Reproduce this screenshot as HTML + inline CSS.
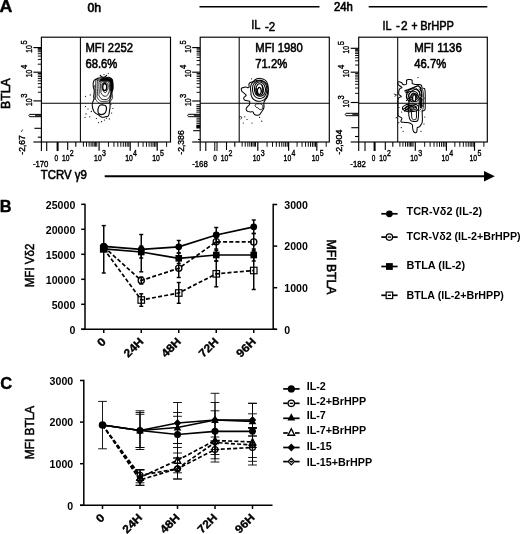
<!DOCTYPE html><html><head><meta charset="utf-8"><title>Figure</title>
<style>html,body{margin:0;padding:0;background:#fff}svg{display:block;filter:grayscale(1)}.n{stroke:#000;stroke-width:0.4px}text{font-family:"Liberation Sans",Arial,sans-serif;fill:#000}line,path{stroke:#000}</style></head><body>
<svg width="520" height="534" viewBox="0 0 520 534">
<rect x="0" y="0" width="520" height="534" fill="#fff" stroke="none"/>
<text x="-0.5" y="12.2" font-size="17" font-weight="bold" text-anchor="start" textLength="12.9" lengthAdjust="spacingAndGlyphs" style="stroke:#000;stroke-width:0.4px">A</text>
<text x="-0.3" y="211.9" font-size="17" font-weight="bold" text-anchor="start" textLength="11.8" lengthAdjust="spacingAndGlyphs" style="stroke:#000;stroke-width:0.4px">B</text>
<text x="0.2" y="388.7" font-size="17" font-weight="bold" text-anchor="start" textLength="11.9" lengthAdjust="spacingAndGlyphs" style="stroke:#000;stroke-width:0.4px">C</text>
<text x="87.5" y="11.9" font-size="12.8" font-weight="normal" text-anchor="start" class="n" textLength="13.6" lengthAdjust="spacingAndGlyphs" style="stroke-width:0.7px">0h</text>
<line x1="199.5" y1="6.8" x2="319.5" y2="6.8" stroke-width="1.6" />
<line x1="368.7" y1="6.8" x2="487.3" y2="6.8" stroke-width="1.6" />
<text x="334.0" y="10.8" font-size="12.7" font-weight="normal" text-anchor="start" class="n" textLength="18.9" lengthAdjust="spacingAndGlyphs" style="stroke-width:0.7px">24h</text>
<text x="251.2" y="29.2" font-size="13" font-weight="normal" text-anchor="start" class="n" textLength="9.3" lengthAdjust="spacingAndGlyphs" style="stroke-width:0.55px">IL</text>
<text x="264.9" y="31" font-size="13" font-weight="normal" text-anchor="start" class="n" textLength="10.2" lengthAdjust="spacingAndGlyphs" style="stroke-width:0.55px">-2</text>
<text x="382.5" y="29.7" font-size="12.9" font-weight="normal" text-anchor="start" class="n" textLength="9.0" lengthAdjust="spacingAndGlyphs" style="stroke-width:0.55px">IL</text>
<text x="396.0" y="29.7" font-size="12.9" font-weight="normal" text-anchor="start" class="n" textLength="3.9" lengthAdjust="spacingAndGlyphs" style="stroke-width:0.55px">-</text>
<text x="400.9" y="29.7" font-size="12.9" font-weight="normal" text-anchor="start" class="n" textLength="6.6" lengthAdjust="spacingAndGlyphs" style="stroke-width:0.55px">2</text>
<text x="411.4" y="29.7" font-size="12.9" font-weight="normal" text-anchor="start" class="n" textLength="6.0" lengthAdjust="spacingAndGlyphs" style="stroke-width:0.8px">+</text>
<text x="420.2" y="29.7" font-size="12.9" font-weight="normal" text-anchor="start" class="n" textLength="33.8" lengthAdjust="spacingAndGlyphs" style="stroke-width:0.55px">BrHPP</text>
<rect x="41.4" y="37.2" width="129.1" height="104.8" fill="none" stroke="#000" stroke-width="1.15"/>
<line x1="80.4" y1="37.2" x2="80.4" y2="142.0" stroke-width="1.05" />
<line x1="41.4" y1="103.2" x2="170.5" y2="103.2" stroke-width="1.05" />
<line x1="33.4" y1="47.6" x2="41.4" y2="47.6" stroke-width="1.15" />
<line x1="33.4" y1="72.2" x2="41.4" y2="72.2" stroke-width="1.15" />
<line x1="33.4" y1="100.9" x2="41.4" y2="100.9" stroke-width="1.15" />
<line x1="37.8" y1="48.4" x2="41.4" y2="48.4" stroke-width="0.95" />
<line x1="37.8" y1="49.2" x2="41.4" y2="49.2" stroke-width="0.95" />
<line x1="37.8" y1="50.2" x2="41.4" y2="50.2" stroke-width="0.95" />
<line x1="37.8" y1="51.7" x2="41.4" y2="51.7" stroke-width="0.95" />
<line x1="37.8" y1="53.7" x2="41.4" y2="53.7" stroke-width="0.95" />
<line x1="37.8" y1="56.1" x2="41.4" y2="56.1" stroke-width="0.95" />
<line x1="37.8" y1="59.4" x2="41.4" y2="59.4" stroke-width="0.95" />
<line x1="37.8" y1="64.2" x2="41.4" y2="64.2" stroke-width="0.95" />
<line x1="37.8" y1="92.26043912444375" x2="41.4" y2="92.26043912444375" stroke-width="0.95" />
<line x1="37.8" y1="87.20661998954569" x2="41.4" y2="87.20661998954569" stroke-width="0.95" />
<line x1="37.8" y1="83.62087824888748" x2="41.4" y2="83.62087824888748" stroke-width="0.95" />
<line x1="37.8" y1="80.83956087555626" x2="41.4" y2="80.83956087555626" stroke-width="0.95" />
<line x1="37.8" y1="78.56705911398943" x2="41.4" y2="78.56705911398943" stroke-width="0.95" />
<line x1="37.8" y1="76.64568625159083" x2="41.4" y2="76.64568625159083" stroke-width="0.95" />
<line x1="37.8" y1="74.98131737333122" x2="41.4" y2="74.98131737333122" stroke-width="0.95" />
<line x1="37.8" y1="73.51323997909138" x2="41.4" y2="73.51323997909138" stroke-width="0.95" />
<path d="M41.4 114.4 H29.7 Q28.099999999999998 115.55000000000001 29.7 116.7 H41.4" fill="none" stroke-width="1.0"/>
<line x1="35.1" y1="115.0" x2="41.4" y2="115.0" stroke-width="0.6" />
<line x1="35.1" y1="115.55000000000001" x2="41.4" y2="115.55000000000001" stroke-width="0.6" />
<line x1="35.1" y1="116.10000000000001" x2="41.4" y2="116.10000000000001" stroke-width="0.6" />
<line x1="34.4" y1="128.3" x2="41.4" y2="128.3" stroke-width="1.1" />
<line x1="37.8" y1="137.2" x2="41.4" y2="137.2" stroke-width="1.1" />
<line x1="33.4" y1="142.0" x2="41.4" y2="142.0" stroke-width="1.15" />
<line x1="41.4" y1="142.0" x2="41.4" y2="151.0" stroke-width="1.1" />
<line x1="46.699999999999996" y1="142.0" x2="46.699999999999996" y2="151.0" stroke-width="1.1" />
<line x1="57.599999999999994" y1="142.0" x2="57.599999999999994" y2="151.0" stroke-width="2.0" />
<line x1="67.7" y1="142.0" x2="67.7" y2="150.0" stroke-width="1.1" />
<line x1="75.8" y1="142.0" x2="75.8" y2="146.7" stroke-width="1.1" />
<line x1="83.4" y1="142.0" x2="83.4" y2="146.7" stroke-width="0.95" />
<line x1="86.5" y1="142.0" x2="86.5" y2="146.7" stroke-width="0.95" />
<line x1="89.1" y1="142.0" x2="89.1" y2="146.7" stroke-width="0.95" />
<line x1="91.1" y1="142.0" x2="91.1" y2="146.7" stroke-width="0.95" />
<line x1="92.8" y1="142.0" x2="92.8" y2="146.7" stroke-width="0.95" />
<line x1="94.3" y1="142.0" x2="94.3" y2="146.7" stroke-width="0.95" />
<line x1="95.6" y1="142.0" x2="95.6" y2="146.7" stroke-width="0.95" />
<line x1="96.8" y1="142.0" x2="96.8" y2="146.7" stroke-width="0.95" />
<line x1="99.1" y1="142.0" x2="99.1" y2="150.8" stroke-width="1.2" />
<line x1="130.2" y1="142.0" x2="130.2" y2="150.8" stroke-width="1.2" />
<line x1="157.2" y1="142.0" x2="157.2" y2="150.8" stroke-width="1.2" />
<line x1="108.46203286514981" y1="142.0" x2="108.46203286514981" y2="146.8" stroke-width="0.95" />
<line x1="113.9384710217815" y1="142.0" x2="113.9384710217815" y2="146.8" stroke-width="0.95" />
<line x1="117.82406573029962" y1="142.0" x2="117.82406573029962" y2="146.8" stroke-width="0.95" />
<line x1="120.83796713485017" y1="142.0" x2="120.83796713485017" y2="146.8" stroke-width="0.95" />
<line x1="123.30050388693131" y1="142.0" x2="123.30050388693131" y2="146.8" stroke-width="0.95" />
<line x1="125.38254904444338" y1="142.0" x2="125.38254904444338" y2="146.8" stroke-width="0.95" />
<line x1="127.18609859544944" y1="142.0" x2="127.18609859544944" y2="146.8" stroke-width="0.95" />
<line x1="128.776942043563" y1="142.0" x2="128.776942043563" y2="146.8" stroke-width="0.95" />
<line x1="138.32780988292748" y1="142.0" x2="138.32780988292748" y2="146.8" stroke-width="0.95" />
<line x1="143.08227387743088" y1="142.0" x2="143.08227387743088" y2="146.8" stroke-width="0.95" />
<line x1="146.45561976585498" y1="142.0" x2="146.45561976585498" y2="146.8" stroke-width="0.95" />
<line x1="149.0721901170725" y1="142.0" x2="149.0721901170725" y2="146.8" stroke-width="0.95" />
<line x1="151.21008376035837" y1="142.0" x2="151.21008376035837" y2="146.8" stroke-width="0.95" />
<line x1="153.01764708038493" y1="142.0" x2="153.01764708038493" y2="146.8" stroke-width="0.95" />
<line x1="154.58342964878247" y1="142.0" x2="154.58342964878247" y2="146.8" stroke-width="0.95" />
<line x1="155.96454775486177" y1="142.0" x2="155.96454775486177" y2="146.8" stroke-width="0.95" />
<line x1="166.6" y1="142.0" x2="166.6" y2="146.8" stroke-width="0.95" />
<text x="32.9" y="167.25" font-size="9.3" font-weight="normal" text-anchor="start" class="n" textLength="15.5" lengthAdjust="spacingAndGlyphs" >-170</text>
<text x="54.5" y="161.1" font-size="9.0" font-weight="normal" text-anchor="start" class="n" textLength="3.6" lengthAdjust="spacingAndGlyphs" >0</text>
<text x="62.0" y="161.1" font-size="9.0" font-weight="normal" text-anchor="start" class="n" textLength="7.5" lengthAdjust="spacingAndGlyphs" >10</text>
<text x="69.7" y="155.8" font-size="8.7" font-weight="normal" text-anchor="start" class="n" textLength="3.9" lengthAdjust="spacingAndGlyphs" >2</text>
<text x="94.1" y="161.1" font-size="9.0" font-weight="normal" text-anchor="start" class="n" textLength="7.6" lengthAdjust="spacingAndGlyphs" >10</text>
<text x="102.0" y="155.8" font-size="8.7" font-weight="normal" text-anchor="start" class="n" textLength="3.9" lengthAdjust="spacingAndGlyphs" >3</text>
<text x="125.19999999999999" y="161.1" font-size="9.0" font-weight="normal" text-anchor="start" class="n" textLength="7.6" lengthAdjust="spacingAndGlyphs" >10</text>
<text x="133.1" y="155.8" font-size="8.7" font-weight="normal" text-anchor="start" class="n" textLength="3.9" lengthAdjust="spacingAndGlyphs" >4</text>
<text x="152.2" y="161.1" font-size="9.0" font-weight="normal" text-anchor="start" class="n" textLength="7.6" lengthAdjust="spacingAndGlyphs" >10</text>
<text x="160.1" y="155.8" font-size="8.7" font-weight="normal" text-anchor="start" class="n" textLength="3.9" lengthAdjust="spacingAndGlyphs" >5</text>
<text x="32.2" y="52.7" font-size="9.0" font-weight="normal" text-anchor="start" class="n" textLength="7.5" lengthAdjust="spacingAndGlyphs" transform="rotate(-90 32.2 52.7)" >10</text>
<text x="27.0" y="44.5" font-size="9.0" font-weight="normal" text-anchor="start" class="n" textLength="4.2" lengthAdjust="spacingAndGlyphs" transform="rotate(-90 27.0 44.5)" >5</text>
<text x="32.2" y="77.3" font-size="9.0" font-weight="normal" text-anchor="start" class="n" textLength="7.5" lengthAdjust="spacingAndGlyphs" transform="rotate(-90 32.2 77.3)" >10</text>
<text x="27.0" y="69.10000000000001" font-size="9.0" font-weight="normal" text-anchor="start" class="n" textLength="4.2" lengthAdjust="spacingAndGlyphs" transform="rotate(-90 27.0 69.10000000000001)" >4</text>
<text x="32.2" y="106.0" font-size="9.0" font-weight="normal" text-anchor="start" class="n" textLength="7.5" lengthAdjust="spacingAndGlyphs" transform="rotate(-90 32.2 106.0)" >10</text>
<text x="27.0" y="97.80000000000001" font-size="9.0" font-weight="normal" text-anchor="start" class="n" textLength="4.2" lengthAdjust="spacingAndGlyphs" transform="rotate(-90 27.0 97.80000000000001)" >3</text>
<text x="25.099999999999998" y="154.7" font-size="8.6" font-weight="normal" text-anchor="start" class="n" textLength="19.5" lengthAdjust="spacingAndGlyphs" transform="rotate(-90 25.099999999999998 154.7)" >-2,67</text>
<text x="85.4" y="51.7" font-size="13.5" font-weight="normal" text-anchor="start" class="n" textLength="47.5" lengthAdjust="spacingAndGlyphs" style="stroke-width:0.6px">MFI 2252</text>
<text x="85.4" y="67.9" font-size="13.5" font-weight="normal" text-anchor="start" class="n" textLength="32" lengthAdjust="spacingAndGlyphs" style="stroke-width:0.6px">68.6%</text>
<rect x="200.2" y="37.2" width="129.1" height="104.8" fill="none" stroke="#000" stroke-width="1.15"/>
<line x1="239.2" y1="37.2" x2="239.2" y2="142.0" stroke-width="1.05" />
<line x1="200.2" y1="103.2" x2="329.29999999999995" y2="103.2" stroke-width="1.05" />
<line x1="192.2" y1="47.6" x2="200.2" y2="47.6" stroke-width="1.15" />
<line x1="192.2" y1="72.2" x2="200.2" y2="72.2" stroke-width="1.15" />
<line x1="192.2" y1="101.0" x2="200.2" y2="101.0" stroke-width="1.15" />
<line x1="196.6" y1="64.79466210666607" x2="200.2" y2="64.79466210666607" stroke-width="0.95" />
<line x1="196.6" y1="60.46281713389631" x2="200.2" y2="60.46281713389631" stroke-width="0.95" />
<line x1="196.6" y1="57.38932421333213" x2="200.2" y2="57.38932421333213" stroke-width="0.95" />
<line x1="196.6" y1="55.00533789333394" x2="200.2" y2="55.00533789333394" stroke-width="0.95" />
<line x1="196.6" y1="53.05747924056237" x2="200.2" y2="53.05747924056237" stroke-width="0.95" />
<line x1="196.6" y1="51.410588215649284" x2="200.2" y2="51.410588215649284" stroke-width="0.95" />
<line x1="196.6" y1="49.983986319998195" x2="200.2" y2="49.983986319998195" stroke-width="0.95" />
<line x1="196.6" y1="48.725634267792614" x2="200.2" y2="48.725634267792614" stroke-width="0.95" />
<line x1="196.6" y1="92.33033612487735" x2="200.2" y2="92.33033612487735" stroke-width="0.95" />
<line x1="196.6" y1="87.25890786407372" x2="200.2" y2="87.25890786407372" stroke-width="0.95" />
<line x1="196.6" y1="83.66067224975468" x2="200.2" y2="83.66067224975468" stroke-width="0.95" />
<line x1="196.6" y1="80.86966387512265" x2="200.2" y2="80.86966387512265" stroke-width="0.95" />
<line x1="196.6" y1="78.58924398895107" x2="200.2" y2="78.58924398895107" stroke-width="0.95" />
<line x1="196.6" y1="76.66117644758941" x2="200.2" y2="76.66117644758941" stroke-width="0.95" />
<line x1="196.6" y1="74.99100837463203" x2="200.2" y2="74.99100837463203" stroke-width="0.95" />
<line x1="196.6" y1="73.51781572814744" x2="200.2" y2="73.51781572814744" stroke-width="0.95" />
<path d="M200.2 114.3 H188.5 Q186.89999999999998 115.5 188.5 116.7 H200.2" fill="none" stroke-width="1.0"/>
<line x1="193.89999999999998" y1="114.89999999999999" x2="200.2" y2="114.89999999999999" stroke-width="0.6" />
<line x1="193.89999999999998" y1="115.45" x2="200.2" y2="115.45" stroke-width="0.6" />
<line x1="193.89999999999998" y1="116.0" x2="200.2" y2="116.0" stroke-width="0.6" />
<line x1="196.39999999999998" y1="104.8" x2="200.2" y2="104.8" stroke-width="1.0" />
<line x1="196.39999999999998" y1="106.6" x2="200.2" y2="106.6" stroke-width="1.0" />
<line x1="196.39999999999998" y1="108.4" x2="200.2" y2="108.4" stroke-width="1.0" />
<line x1="196.39999999999998" y1="110.2" x2="200.2" y2="110.2" stroke-width="1.0" />
<line x1="196.39999999999998" y1="112.1" x2="200.2" y2="112.1" stroke-width="1.0" />
<line x1="196.39999999999998" y1="118.2" x2="200.2" y2="118.2" stroke-width="1.0" />
<line x1="196.39999999999998" y1="120.0" x2="200.2" y2="120.0" stroke-width="1.0" />
<line x1="196.39999999999998" y1="121.8" x2="200.2" y2="121.8" stroke-width="1.0" />
<line x1="196.39999999999998" y1="123.7" x2="200.2" y2="123.7" stroke-width="1.0" />
<rect x="196.29999999999998" y="124.9" width="3.9" height="3.6" fill="#000" stroke="none"/>
<line x1="193.2" y1="130.7" x2="200.2" y2="130.7" stroke-width="1.1" />
<line x1="198.0" y1="139.5" x2="200.2" y2="139.5" stroke-width="1.1" />
<line x1="192.2" y1="142.0" x2="200.2" y2="142.0" stroke-width="1.15" />
<line x1="200.2" y1="142.0" x2="200.2" y2="151.0" stroke-width="1.1" />
<line x1="205.79999999999998" y1="142.0" x2="205.79999999999998" y2="151.0" stroke-width="1.1" />
<line x1="214.79999999999998" y1="142.0" x2="214.79999999999998" y2="151.0" stroke-width="1.0" />
<line x1="217.0" y1="142.0" x2="217.0" y2="151.0" stroke-width="1.0" />
<line x1="226.5" y1="142.0" x2="226.5" y2="150.0" stroke-width="1.1" />
<line x1="234.79999999999998" y1="142.0" x2="234.79999999999998" y2="146.7" stroke-width="1.1" />
<line x1="242.1272097053726" y1="142.0" x2="242.1272097053726" y2="146.7" stroke-width="0.95" />
<line x1="245.2218370883882" y1="142.0" x2="245.2218370883882" y2="146.7" stroke-width="0.95" />
<line x1="247.8173310225303" y1="142.0" x2="247.8173310225303" y2="146.7" stroke-width="0.95" />
<line x1="249.81386481802426" y1="142.0" x2="249.81386481802426" y2="146.7" stroke-width="0.95" />
<line x1="251.5109185441941" y1="142.0" x2="251.5109185441941" y2="146.7" stroke-width="0.95" />
<line x1="253.00831889081454" y1="142.0" x2="253.00831889081454" y2="146.7" stroke-width="0.95" />
<line x1="254.3060658578856" y1="142.0" x2="254.3060658578856" y2="146.7" stroke-width="0.95" />
<line x1="255.50398613518195" y1="142.0" x2="255.50398613518195" y2="146.7" stroke-width="0.95" />
<line x1="257.8" y1="142.0" x2="257.8" y2="150.8" stroke-width="1.2" />
<line x1="288.6" y1="142.0" x2="288.6" y2="150.8" stroke-width="1.2" />
<line x1="316.79999999999995" y1="142.0" x2="316.79999999999995" y2="150.8" stroke-width="1.2" />
<line x1="267.0717238664506" y1="142.0" x2="267.0717238664506" y2="146.8" stroke-width="0.95" />
<line x1="272.49533464536563" y1="142.0" x2="272.49533464536563" y2="146.8" stroke-width="0.95" />
<line x1="276.34344773290127" y1="142.0" x2="276.34344773290127" y2="146.8" stroke-width="0.95" />
<line x1="279.32827613354937" y1="142.0" x2="279.32827613354937" y2="146.8" stroke-width="0.95" />
<line x1="281.76705851181623" y1="142.0" x2="281.76705851181623" y2="146.8" stroke-width="0.95" />
<line x1="283.8290196324391" y1="142.0" x2="283.8290196324391" y2="146.8" stroke-width="0.95" />
<line x1="285.61517159935187" y1="142.0" x2="285.61517159935187" y2="146.8" stroke-width="0.95" />
<line x1="287.1906692907312" y1="142.0" x2="287.1906692907312" y2="146.8" stroke-width="0.95" />
<line x1="297.0890458777243" y1="142.0" x2="297.0890458777243" y2="146.8" stroke-width="0.95" />
<line x1="302.0548193830945" y1="142.0" x2="302.0548193830945" y2="146.8" stroke-width="0.95" />
<line x1="305.57809175544855" y1="142.0" x2="305.57809175544855" y2="146.8" stroke-width="0.95" />
<line x1="308.31095412227575" y1="142.0" x2="308.31095412227575" y2="146.8" stroke-width="0.95" />
<line x1="310.5438652608188" y1="142.0" x2="310.5438652608188" y2="146.8" stroke-width="0.95" />
<line x1="312.4317647284021" y1="142.0" x2="312.4317647284021" y2="146.8" stroke-width="0.95" />
<line x1="314.0671376331728" y1="142.0" x2="314.0671376331728" y2="146.8" stroke-width="0.95" />
<line x1="315.50963876618897" y1="142.0" x2="315.50963876618897" y2="146.8" stroke-width="0.95" />
<line x1="326.19999999999993" y1="142.0" x2="326.19999999999993" y2="146.8" stroke-width="0.95" />
<text x="192.2" y="167.25" font-size="9.3" font-weight="normal" text-anchor="start" class="n" textLength="15.5" lengthAdjust="spacingAndGlyphs" >-168</text>
<text x="213.29999999999998" y="161.1" font-size="9.0" font-weight="normal" text-anchor="start" class="n" textLength="3.6" lengthAdjust="spacingAndGlyphs" >0</text>
<text x="220.79999999999998" y="161.1" font-size="9.0" font-weight="normal" text-anchor="start" class="n" textLength="7.5" lengthAdjust="spacingAndGlyphs" >10</text>
<text x="228.5" y="155.8" font-size="8.7" font-weight="normal" text-anchor="start" class="n" textLength="3.9" lengthAdjust="spacingAndGlyphs" >2</text>
<text x="252.8" y="161.1" font-size="9.0" font-weight="normal" text-anchor="start" class="n" textLength="7.6" lengthAdjust="spacingAndGlyphs" >10</text>
<text x="260.7" y="155.8" font-size="8.7" font-weight="normal" text-anchor="start" class="n" textLength="3.9" lengthAdjust="spacingAndGlyphs" >3</text>
<text x="283.6" y="161.1" font-size="9.0" font-weight="normal" text-anchor="start" class="n" textLength="7.6" lengthAdjust="spacingAndGlyphs" >10</text>
<text x="291.5" y="155.8" font-size="8.7" font-weight="normal" text-anchor="start" class="n" textLength="3.9" lengthAdjust="spacingAndGlyphs" >4</text>
<text x="311.79999999999995" y="161.1" font-size="9.0" font-weight="normal" text-anchor="start" class="n" textLength="7.6" lengthAdjust="spacingAndGlyphs" >10</text>
<text x="319.69999999999993" y="155.8" font-size="8.7" font-weight="normal" text-anchor="start" class="n" textLength="3.9" lengthAdjust="spacingAndGlyphs" >5</text>
<text x="191.0" y="52.7" font-size="9.0" font-weight="normal" text-anchor="start" class="n" textLength="7.5" lengthAdjust="spacingAndGlyphs" transform="rotate(-90 191.0 52.7)" >10</text>
<text x="185.79999999999998" y="44.5" font-size="9.0" font-weight="normal" text-anchor="start" class="n" textLength="4.2" lengthAdjust="spacingAndGlyphs" transform="rotate(-90 185.79999999999998 44.5)" >5</text>
<text x="191.0" y="77.3" font-size="9.0" font-weight="normal" text-anchor="start" class="n" textLength="7.5" lengthAdjust="spacingAndGlyphs" transform="rotate(-90 191.0 77.3)" >10</text>
<text x="185.79999999999998" y="69.10000000000001" font-size="9.0" font-weight="normal" text-anchor="start" class="n" textLength="4.2" lengthAdjust="spacingAndGlyphs" transform="rotate(-90 185.79999999999998 69.10000000000001)" >4</text>
<text x="191.0" y="106.1" font-size="9.0" font-weight="normal" text-anchor="start" class="n" textLength="7.5" lengthAdjust="spacingAndGlyphs" transform="rotate(-90 191.0 106.1)" >10</text>
<text x="185.79999999999998" y="97.9" font-size="9.0" font-weight="normal" text-anchor="start" class="n" textLength="4.2" lengthAdjust="spacingAndGlyphs" transform="rotate(-90 185.79999999999998 97.9)" >3</text>
<text x="183.89999999999998" y="154.7" font-size="8.6" font-weight="normal" text-anchor="start" class="n" textLength="24.4" lengthAdjust="spacingAndGlyphs" transform="rotate(-90 183.89999999999998 154.7)" >-2,386</text>
<text x="255.29999999999998" y="51.7" font-size="13.5" font-weight="normal" text-anchor="start" class="n" textLength="47.5" lengthAdjust="spacingAndGlyphs" style="stroke-width:0.6px">MFI 1980</text>
<text x="255.29999999999998" y="67.9" font-size="13.5" font-weight="normal" text-anchor="start" class="n" textLength="32" lengthAdjust="spacingAndGlyphs" style="stroke-width:0.6px">71.2%</text>
<rect x="358.7" y="37.2" width="128.6" height="104.8" fill="none" stroke="#000" stroke-width="1.15"/>
<line x1="397.7" y1="37.2" x2="397.7" y2="142.0" stroke-width="1.05" />
<line x1="358.7" y1="103.2" x2="487.29999999999995" y2="103.2" stroke-width="1.05" />
<line x1="350.7" y1="48.3" x2="358.7" y2="48.3" stroke-width="1.15" />
<line x1="350.7" y1="72.2" x2="358.7" y2="72.2" stroke-width="1.15" />
<line x1="350.7" y1="102.5" x2="358.7" y2="102.5" stroke-width="1.15" />
<line x1="355.09999999999997" y1="65.00538310363085" x2="358.7" y2="65.00538310363085" stroke-width="0.95" />
<line x1="355.09999999999997" y1="60.79680201220007" x2="358.7" y2="60.79680201220007" stroke-width="0.95" />
<line x1="355.09999999999997" y1="57.8107662072617" x2="358.7" y2="57.8107662072617" stroke-width="0.95" />
<line x1="355.09999999999997" y1="55.49461689636915" x2="358.7" y2="55.49461689636915" stroke-width="0.95" />
<line x1="355.09999999999997" y1="53.60218511583092" x2="358.7" y2="53.60218511583092" stroke-width="0.95" />
<line x1="355.09999999999997" y1="52.002156843659264" x2="358.7" y2="52.002156843659264" stroke-width="0.95" />
<line x1="355.09999999999997" y1="50.616149310892546" x2="358.7" y2="50.616149310892546" stroke-width="0.95" />
<line x1="355.09999999999997" y1="49.39360402440013" x2="358.7" y2="49.39360402440013" stroke-width="0.95" />
<line x1="355.09999999999997" y1="93.37879113138138" x2="358.7" y2="93.37879113138138" stroke-width="0.95" />
<line x1="355.09999999999997" y1="88.04322598199423" x2="358.7" y2="88.04322598199423" stroke-width="0.95" />
<line x1="355.09999999999997" y1="84.25758226276274" x2="358.7" y2="84.25758226276274" stroke-width="0.95" />
<line x1="355.09999999999997" y1="81.32120886861863" x2="358.7" y2="81.32120886861863" stroke-width="0.95" />
<line x1="355.09999999999997" y1="78.9220171133756" x2="358.7" y2="78.9220171133756" stroke-width="0.95" />
<line x1="355.09999999999997" y1="76.89352938756802" x2="358.7" y2="76.89352938756802" stroke-width="0.95" />
<line x1="355.09999999999997" y1="75.13637339414412" x2="358.7" y2="75.13637339414412" stroke-width="0.95" />
<line x1="355.09999999999997" y1="73.58645196398845" x2="358.7" y2="73.58645196398845" stroke-width="0.95" />
<path d="M358.7 113.3 H346.0 Q344.4 114.5 346.0 115.7 H358.7" fill="none" stroke-width="1.0"/>
<line x1="352.4" y1="113.89999999999999" x2="358.7" y2="113.89999999999999" stroke-width="0.6" />
<line x1="352.4" y1="114.45" x2="358.7" y2="114.45" stroke-width="0.6" />
<line x1="352.4" y1="115.0" x2="358.7" y2="115.0" stroke-width="0.6" />
<line x1="351.3" y1="127.7" x2="358.7" y2="127.7" stroke-width="1.1" />
<line x1="355.0" y1="136.5" x2="358.7" y2="136.5" stroke-width="1.1" />
<line x1="350.7" y1="142.0" x2="358.7" y2="142.0" stroke-width="1.15" />
<line x1="358.7" y1="142.0" x2="358.7" y2="151.0" stroke-width="1.1" />
<line x1="365.0" y1="142.0" x2="365.0" y2="151.0" stroke-width="1.1" />
<line x1="374.59999999999997" y1="142.0" x2="374.59999999999997" y2="151.0" stroke-width="2.0" />
<line x1="385.3" y1="142.0" x2="385.3" y2="150.0" stroke-width="1.1" />
<line x1="392.8" y1="142.0" x2="392.8" y2="146.7" stroke-width="1.1" />
<line x1="399.89930675909875" y1="142.0" x2="399.89930675909875" y2="146.7" stroke-width="0.95" />
<line x1="402.94020797227034" y1="142.0" x2="402.94020797227034" y2="146.7" stroke-width="0.95" />
<line x1="405.4906412478336" y1="142.0" x2="405.4906412478336" y2="146.7" stroke-width="0.95" />
<line x1="407.4525129982669" y1="142.0" x2="407.4525129982669" y2="146.7" stroke-width="0.95" />
<line x1="409.1201039861352" y1="142.0" x2="409.1201039861352" y2="146.7" stroke-width="0.95" />
<line x1="410.59150779896015" y1="142.0" x2="410.59150779896015" y2="146.7" stroke-width="0.95" />
<line x1="411.8667244367418" y1="142.0" x2="411.8667244367418" y2="146.7" stroke-width="0.95" />
<line x1="413.0438474870017" y1="142.0" x2="413.0438474870017" y2="146.7" stroke-width="0.95" />
<line x1="415.3" y1="142.0" x2="415.3" y2="150.8" stroke-width="1.2" />
<line x1="446.4" y1="142.0" x2="446.4" y2="150.8" stroke-width="1.2" />
<line x1="474.5" y1="142.0" x2="474.5" y2="150.8" stroke-width="1.2" />
<line x1="424.66203286514985" y1="142.0" x2="424.66203286514985" y2="146.8" stroke-width="0.95" />
<line x1="430.1384710217815" y1="142.0" x2="430.1384710217815" y2="146.8" stroke-width="0.95" />
<line x1="434.02406573029964" y1="142.0" x2="434.02406573029964" y2="146.8" stroke-width="0.95" />
<line x1="437.0379671348502" y1="142.0" x2="437.0379671348502" y2="146.8" stroke-width="0.95" />
<line x1="439.5005038869313" y1="142.0" x2="439.5005038869313" y2="146.8" stroke-width="0.95" />
<line x1="441.5825490444434" y1="142.0" x2="441.5825490444434" y2="146.8" stroke-width="0.95" />
<line x1="443.3860985954495" y1="142.0" x2="443.3860985954495" y2="146.8" stroke-width="0.95" />
<line x1="444.97694204356304" y1="142.0" x2="444.97694204356304" y2="146.8" stroke-width="0.95" />
<line x1="454.85894287815785" y1="142.0" x2="454.85894287815785" y2="146.8" stroke-width="0.95" />
<line x1="459.8071072576225" y1="142.0" x2="459.8071072576225" y2="146.8" stroke-width="0.95" />
<line x1="463.3178857563157" y1="142.0" x2="463.3178857563157" y2="146.8" stroke-width="0.95" />
<line x1="466.04105712184213" y1="142.0" x2="466.04105712184213" y2="146.8" stroke-width="0.95" />
<line x1="468.26605013578035" y1="142.0" x2="468.26605013578035" y2="146.8" stroke-width="0.95" />
<line x1="470.1472549244006" y1="142.0" x2="470.1472549244006" y2="146.8" stroke-width="0.95" />
<line x1="471.7768286344736" y1="142.0" x2="471.7768286344736" y2="146.8" stroke-width="0.95" />
<line x1="473.214214515245" y1="142.0" x2="473.214214515245" y2="146.8" stroke-width="0.95" />
<line x1="483.9" y1="142.0" x2="483.9" y2="146.8" stroke-width="0.95" />
<text x="350.3" y="167.25" font-size="9.3" font-weight="normal" text-anchor="start" class="n" textLength="15.5" lengthAdjust="spacingAndGlyphs" >-182</text>
<text x="371.8" y="161.1" font-size="9.0" font-weight="normal" text-anchor="start" class="n" textLength="3.6" lengthAdjust="spacingAndGlyphs" >0</text>
<text x="379.3" y="161.1" font-size="9.0" font-weight="normal" text-anchor="start" class="n" textLength="7.5" lengthAdjust="spacingAndGlyphs" >10</text>
<text x="387.0" y="155.8" font-size="8.7" font-weight="normal" text-anchor="start" class="n" textLength="3.9" lengthAdjust="spacingAndGlyphs" >2</text>
<text x="410.3" y="161.1" font-size="9.0" font-weight="normal" text-anchor="start" class="n" textLength="7.6" lengthAdjust="spacingAndGlyphs" >10</text>
<text x="418.2" y="155.8" font-size="8.7" font-weight="normal" text-anchor="start" class="n" textLength="3.9" lengthAdjust="spacingAndGlyphs" >3</text>
<text x="441.4" y="161.1" font-size="9.0" font-weight="normal" text-anchor="start" class="n" textLength="7.6" lengthAdjust="spacingAndGlyphs" >10</text>
<text x="449.29999999999995" y="155.8" font-size="8.7" font-weight="normal" text-anchor="start" class="n" textLength="3.9" lengthAdjust="spacingAndGlyphs" >4</text>
<text x="469.5" y="161.1" font-size="9.0" font-weight="normal" text-anchor="start" class="n" textLength="7.6" lengthAdjust="spacingAndGlyphs" >10</text>
<text x="477.4" y="155.8" font-size="8.7" font-weight="normal" text-anchor="start" class="n" textLength="3.9" lengthAdjust="spacingAndGlyphs" >5</text>
<text x="349.5" y="53.4" font-size="9.0" font-weight="normal" text-anchor="start" class="n" textLength="7.5" lengthAdjust="spacingAndGlyphs" transform="rotate(-90 349.5 53.4)" >10</text>
<text x="344.3" y="45.199999999999996" font-size="9.0" font-weight="normal" text-anchor="start" class="n" textLength="4.2" lengthAdjust="spacingAndGlyphs" transform="rotate(-90 344.3 45.199999999999996)" >5</text>
<text x="349.5" y="77.3" font-size="9.0" font-weight="normal" text-anchor="start" class="n" textLength="7.5" lengthAdjust="spacingAndGlyphs" transform="rotate(-90 349.5 77.3)" >10</text>
<text x="344.3" y="69.10000000000001" font-size="9.0" font-weight="normal" text-anchor="start" class="n" textLength="4.2" lengthAdjust="spacingAndGlyphs" transform="rotate(-90 344.3 69.10000000000001)" >4</text>
<text x="349.5" y="107.6" font-size="9.0" font-weight="normal" text-anchor="start" class="n" textLength="7.5" lengthAdjust="spacingAndGlyphs" transform="rotate(-90 349.5 107.6)" >10</text>
<text x="344.3" y="99.4" font-size="9.0" font-weight="normal" text-anchor="start" class="n" textLength="4.2" lengthAdjust="spacingAndGlyphs" transform="rotate(-90 344.3 99.4)" >3</text>
<text x="342.4" y="154.7" font-size="8.6" font-weight="normal" text-anchor="start" class="n" textLength="25.0" lengthAdjust="spacingAndGlyphs" transform="rotate(-90 342.4 154.7)" >-2,904</text>
<text x="414.3" y="51.7" font-size="13.5" font-weight="normal" text-anchor="start" class="n" textLength="47.5" lengthAdjust="spacingAndGlyphs" style="stroke-width:0.6px">MFI 1136</text>
<text x="414.3" y="67.9" font-size="13.5" font-weight="normal" text-anchor="start" class="n" textLength="32" lengthAdjust="spacingAndGlyphs" style="stroke-width:0.6px">46.7%</text>
<line x1="21.3" y1="131.9" x2="22.7" y2="129.5" stroke-width="0.8" />
<text x="10.3" y="108.9" font-size="12.9" font-weight="normal" text-anchor="start" class="n" textLength="30.5" lengthAdjust="spacingAndGlyphs" transform="rotate(-90 10.3 108.9)" style="stroke-width:0.6px">BTLA</text>
<text x="40.8" y="178.7" font-size="12.8" font-weight="normal" text-anchor="start" class="n" textLength="46" lengthAdjust="spacingAndGlyphs" style="stroke-width:0.6px">TCRV γ9</text>
<line x1="104.7" y1="176.3" x2="486" y2="176.3" stroke-width="2.1" />
<polygon points="484,171.0 494.8,176.3 484,181.6" fill="#000" stroke="none"/>
<path d="M93.7 81.3C94.7 79.0 94.6 80.0 96.5 79.0C98.4 78.0 98.0 78.0 100.1 77.8C102.2 77.6 101.3 78.4 103.5 78.3C105.7 78.2 105.3 77.5 107.4 77.4C109.5 77.3 109.1 77.1 110.5 78.0C111.9 78.9 111.5 78.2 112.2 80.3C112.9 82.4 112.8 82.2 112.9 85.0C113.1 87.8 113.3 86.7 112.7 89.5C112.1 92.3 111.5 91.9 110.8 94.4C110.0 97.0 110.5 96.0 110.2 98.0C109.9 100.0 109.8 98.8 109.8 101.2C109.8 103.6 110.2 103.1 110.1 106.0C110.0 108.9 110.0 108.0 109.5 110.9C109.0 113.8 109.4 114.1 108.3 115.8C107.2 117.5 107.2 116.1 105.8 116.6C104.4 117.0 105.1 117.3 103.5 117.3C101.9 117.3 102.0 117.3 100.5 116.6C99.0 115.8 100.0 115.8 98.6 114.8C97.2 113.8 97.3 114.5 95.8 113.3C94.3 112.1 94.8 113.1 93.7 110.9C92.7 108.7 92.6 108.7 92.3 106.1C92.0 103.5 92.3 104.3 92.8 102.2C93.3 100.1 93.6 100.8 93.9 99.0C94.2 97.2 93.6 98.7 93.7 96.3C93.8 93.9 94.3 93.9 94.2 91.0C94.1 88.1 93.5 89.5 93.3 86.6C93.1 83.7 92.7 83.6 93.7 81.3Z" fill="none" stroke="#000" stroke-width="1.05" stroke-linejoin="round"/>
<path d="M95.7 81.2C95.9 77.4 94.2 80.2 96.6 79.5C99.0 78.8 99.5 79.0 103.8 79.0C108.2 79.0 108.7 78.8 111.1 79.5C113.5 80.2 111.7 77.7 112.0 81.2C112.3 84.7 112.3 85.5 112.1 91.1C111.9 96.7 113.8 96.4 111.4 100.0C109.0 103.6 108.7 103.0 104.2 103.2C99.8 103.4 99.0 103.9 96.5 100.6C94.0 97.3 96.1 97.9 95.9 92.1C95.6 86.3 95.5 85.0 95.7 81.2Z" fill="none" stroke="#000" stroke-width="0.8" stroke-linejoin="round"/>
<path d="M97.3 82.0C97.5 78.6 96.1 81.0 98.2 80.3C100.3 79.6 100.6 79.8 104.2 79.8C107.9 79.8 108.2 79.6 110.3 80.3C112.4 81.0 110.9 78.9 111.2 82.0C111.5 85.1 111.5 85.7 111.3 90.6C111.1 95.5 112.6 95.0 110.6 98.2C108.6 101.4 108.4 101.2 104.7 101.4C100.9 101.6 100.3 101.7 98.1 98.8C95.9 95.9 97.7 96.6 97.5 91.6C97.2 86.6 97.1 85.4 97.3 82.0Z" fill="none" stroke="#000" stroke-width="0.8" stroke-linejoin="round"/>
<path d="M99.0 82.8C99.2 79.8 98.2 81.8 99.9 81.1C101.6 80.4 101.8 80.6 104.6 80.6C107.4 80.6 107.6 80.4 109.3 81.1C111.0 81.8 109.9 80.1 110.2 82.8C110.5 85.5 110.5 86.0 110.3 90.1C110.1 94.2 111.2 93.5 109.6 96.4C108.0 99.2 107.9 99.4 105.0 99.6C102.1 99.8 101.6 99.5 99.8 97.0C98.0 94.5 99.4 95.4 99.2 91.1C98.9 86.8 98.8 85.8 99.0 82.8Z" fill="none" stroke="#000" stroke-width="0.85" stroke-linejoin="round"/>
<path d="M100.7 83.8C100.9 81.5 100.3 82.8 101.6 82.1C102.9 81.4 102.9 81.6 105.0 81.6C107.0 81.6 107.0 81.4 108.3 82.1C109.6 82.8 108.9 81.8 109.2 83.8C109.5 85.8 109.5 86.1 109.3 88.9C109.1 91.7 109.8 90.8 108.6 93.0C107.4 95.2 107.5 96.0 105.4 96.2C103.2 96.4 102.8 95.5 101.5 93.6C100.2 91.7 101.1 92.8 100.9 89.9C100.6 87.0 100.5 86.1 100.7 83.8Z" fill="none" stroke="#000" stroke-width="0.85" stroke-linejoin="round"/>
<path d="M102.0 84.8C102.2 83.1 102.0 83.8 102.9 83.1C103.8 82.4 103.7 82.6 105.0 82.6C106.2 82.6 106.1 82.4 107.0 83.1C107.9 83.8 107.6 83.5 107.9 84.8C108.2 86.1 108.2 86.2 108.0 87.6C107.8 89.0 108.1 87.9 107.3 89.4C106.5 90.9 106.7 92.4 105.4 92.6C104.0 92.8 103.8 91.2 102.8 90.0C101.8 88.8 102.4 90.2 102.2 88.6C101.9 87.0 101.8 86.5 102.0 84.8Z" fill="none" stroke="#000" stroke-width="0.9" stroke-linejoin="round"/>
<ellipse cx="104.7" cy="87.1" rx="2.0" ry="3.6" fill="#fff" stroke="#000" stroke-width="1.3"/>
<path d="M99.8 80.4 Q101 78.6 103.4 78.3 Q108 77.5 111.6 78.8 Q113.2 80 113.0 84 L112.9 90.3 Q111.9 92 110.7 90.8 L110.6 82.4 Q107.5 80.0 104 80.4 Q101.6 80.5 100.6 81.4 Z" fill="#000" stroke="#000" stroke-width="0.6"/>
<path d="M100.0 75.0 Q101.2 77.3 103.4 77.3 Q105.6 77.3 106.9 75.0" fill="none" stroke="#000" stroke-width="1.2"/>
<circle cx="104.0" cy="74.6" r="0.55" fill="#000" stroke="none"/>
<path d="M106.0 111.0C105.5 112.4 105.8 112.3 104.8 113.2C103.7 114.2 103.9 114.0 102.6 114.3C101.3 114.7 101.6 114.8 100.4 114.4C99.1 114.0 99.3 114.1 98.5 113.0C97.8 111.9 98.0 112.0 98.0 110.6C97.9 109.2 97.9 109.6 98.3 108.2C98.7 106.8 98.4 106.8 99.4 105.8C100.3 104.8 100.3 105.2 101.6 104.9C102.9 104.7 102.5 104.7 103.8 105.1C105.0 105.4 105.0 105.0 105.8 106.1C106.6 107.1 106.4 107.0 106.4 108.5C106.5 110.0 106.5 109.6 106.0 111.0Z" fill="none" stroke="#000" stroke-width="1.15" stroke-linejoin="round"/>
<path d="M94.6 85 Q95.6 92 94.9 100" fill="none" stroke="#000" stroke-width="0.7"/>
<circle cx="85.5" cy="96.3" r="0.62" fill="#000" stroke="none"/>
<circle cx="90.3" cy="94.9" r="0.62" fill="#000" stroke="none"/>
<circle cx="85.5" cy="106.6" r="0.62" fill="#000" stroke="none"/>
<circle cx="86" cy="113.9" r="0.62" fill="#000" stroke="none"/>
<circle cx="89.8" cy="116.8" r="0.62" fill="#000" stroke="none"/>
<circle cx="85" cy="117.3" r="0.62" fill="#000" stroke="none"/>
<circle cx="112.9" cy="108.5" r="0.62" fill="#000" stroke="none"/>
<circle cx="106.4" cy="118.2" r="0.62" fill="#000" stroke="none"/>
<circle cx="109.3" cy="118.9" r="0.62" fill="#000" stroke="none"/>
<circle cx="98.6" cy="122.6" r="0.62" fill="#000" stroke="none"/>
<circle cx="101.5" cy="121.7" r="0.62" fill="#000" stroke="none"/>
<circle cx="108.3" cy="73.5" r="0.62" fill="#000" stroke="none"/>
<circle cx="91.3" cy="111.4" r="0.62" fill="#000" stroke="none"/>
<circle cx="88" cy="109" r="0.62" fill="#000" stroke="none"/>
<circle cx="111.6" cy="113" r="0.62" fill="#000" stroke="none"/>
<circle cx="104.5" cy="120" r="0.62" fill="#000" stroke="none"/>
<circle cx="96.5" cy="118.5" r="0.62" fill="#000" stroke="none"/>
<circle cx="110.9" cy="104.5" r="0.62" fill="#000" stroke="none"/>
<path d="M241.4 88.6C241.9 87.7 242.4 88.0 243.5 87.6C244.6 87.2 244.3 87.1 245.7 87.1C247.1 87.1 247.8 88.0 248.7 87.6C249.6 87.2 248.9 86.5 249.0 85.5C249.1 84.5 248.6 84.6 249.1 83.7C249.6 82.8 250.0 82.8 251.0 82.3C252.0 81.8 252.0 82.3 253.0 81.7C254.0 81.1 253.8 80.8 254.8 80.0C255.8 79.2 255.7 79.3 256.9 78.8C258.1 78.3 258.1 78.3 259.4 78.3C260.7 78.3 260.5 78.5 261.8 78.8C263.1 79.1 263.1 78.9 264.3 79.6C265.5 80.3 265.3 80.2 266.2 81.3C267.1 82.4 267.1 82.4 267.6 83.8C268.1 85.2 267.9 84.8 268.1 86.6C268.3 88.4 268.4 88.4 268.4 90.5C268.4 92.6 268.4 92.6 268.1 94.4C267.8 96.2 267.8 95.9 267.2 97.2C266.6 98.5 266.4 98.2 265.7 99.3C265.0 100.4 265.0 100.2 264.5 101.2C264.0 102.2 263.9 102.0 263.8 103.2C263.7 104.4 264.0 104.3 264.0 105.6C264.0 106.9 264.2 106.7 263.8 108.0C263.4 109.3 263.3 109.3 262.5 110.6C261.7 111.9 261.6 111.8 260.8 112.9C260.0 114.0 260.4 114.2 259.4 114.8C258.4 115.4 258.4 115.2 257.2 115.2C256.0 115.2 255.9 115.3 255.0 114.8C254.1 114.3 254.2 114.2 253.7 113.4C253.2 112.6 253.9 112.3 253.0 111.9C252.1 111.5 251.7 112.0 250.3 111.9C248.9 111.8 248.7 111.9 247.7 111.4C246.7 110.9 246.9 110.8 246.5 110.0C246.1 109.2 246.0 109.3 246.2 108.5C246.4 107.7 246.6 107.7 247.3 106.9C248.0 106.1 248.1 106.3 248.7 105.6C249.3 104.9 249.3 105.0 249.5 104.4C249.7 103.8 249.6 104.1 249.6 103.2C249.6 102.3 250.2 101.8 249.6 101.2C249.0 100.6 248.5 101.1 247.2 100.8C245.9 100.5 245.7 100.7 244.8 100.2C243.9 99.7 244.2 99.6 243.9 99.0C243.6 98.4 243.5 98.5 243.8 97.8C244.1 97.1 244.4 97.1 245.0 96.5C245.6 95.9 246.2 96.0 246.2 95.4C246.2 94.8 245.7 94.8 245.1 94.1C244.5 93.4 244.5 93.5 243.8 92.9C243.1 92.3 243.1 92.5 242.6 92.0C242.1 91.5 242.1 91.9 241.8 91.0C241.5 90.1 240.9 89.5 241.4 88.6Z" fill="none" stroke="#000" stroke-width="1.02" stroke-linejoin="round"/>
<path d="M250.6 88.0C250.8 85.6 250.4 86.0 251.6 84.0C252.8 82.0 252.1 82.4 254.5 81.3C256.9 80.2 256.5 80.1 259.5 80.3C262.5 80.5 262.1 80.1 264.5 81.8C266.9 83.5 266.5 82.9 267.4 86.0C268.3 89.1 268.0 88.6 267.6 92.0C267.2 95.4 267.6 94.7 266.2 97.2C264.8 99.7 265.3 99.1 263.0 100.3C260.7 101.5 261.2 101.4 258.6 101.2C256.0 101.0 256.4 101.2 254.3 99.8C252.2 98.4 252.6 98.7 251.6 96.4C250.6 94.1 251.2 94.5 250.9 92.0C250.6 89.5 250.4 90.4 250.6 88.0Z" fill="none" stroke="#000" stroke-width="1.02" stroke-linejoin="round"/>
<path d="M252.6 88.0C252.9 85.5 252.4 85.8 253.9 83.8C255.4 81.8 255.1 81.9 257.5 81.2C259.9 80.5 259.6 80.5 262.0 81.4C264.4 82.3 264.2 81.8 265.6 84.2C267.0 86.6 266.7 86.4 266.7 89.5C266.7 92.6 266.8 92.1 265.6 94.6C264.4 97.1 264.8 96.7 262.6 97.8C260.4 98.9 260.7 98.8 258.3 98.3C255.9 97.8 256.2 97.9 254.6 96.0C253.0 94.1 253.5 94.4 252.9 92.0C252.3 89.6 252.3 90.5 252.6 88.0Z" fill="none" stroke="#000" stroke-width="1.02" stroke-linejoin="round"/>
<path d="M254.5 88.0C254.8 85.7 254.5 85.8 255.8 84.0C257.2 82.2 256.9 82.2 259.0 82.0C261.1 81.8 260.9 81.7 262.7 83.2C264.5 84.7 264.2 84.5 265.0 87.0C265.8 89.5 265.7 89.1 265.2 91.5C264.7 93.9 265.0 93.6 263.4 95.0C261.8 96.4 262.0 96.3 260.0 96.3C258.0 96.3 258.1 96.3 256.6 95.0C255.1 93.7 255.5 93.9 254.9 91.8C254.3 89.7 254.2 90.3 254.5 88.0Z" fill="none" stroke="#000" stroke-width="1.08" stroke-linejoin="round"/>
<path d="M256.0 88.5C256.3 86.5 256.2 86.4 257.3 85.0C258.4 83.6 258.3 83.5 259.8 83.7C261.3 83.9 261.1 83.9 262.2 85.6C263.2 87.3 263.2 87.2 263.3 89.5C263.4 91.8 263.5 91.5 262.6 93.2C261.7 94.9 261.7 95.0 260.2 95.2C258.7 95.4 258.8 95.1 257.6 94.0C256.4 92.9 256.8 93.2 256.3 91.5C255.8 89.8 255.7 90.5 256.0 88.5Z" fill="none" stroke="#000" stroke-width="1.08" stroke-linejoin="round"/>
<path d="M257.4 90.0C257.5 88.5 257.8 89.0 258.4 88.2C259.0 87.4 258.8 87.3 259.5 87.4C260.2 87.5 260.2 87.5 260.7 88.6C261.2 89.7 261.3 89.7 261.3 91.2C261.3 92.7 261.2 92.6 260.6 93.6C260.0 94.6 260.0 94.5 259.2 94.4C258.4 94.3 258.4 94.5 257.9 93.2C257.4 91.9 257.2 91.5 257.4 90.0Z" fill="none" stroke="#000" stroke-width="1.32" stroke-linejoin="round"/>
<path d="M256.2 88 Q255.6 91.5 257.2 94.6 M262.0 85 Q263.6 89 262.6 94" fill="none" stroke="#000" stroke-width="1.2"/>
<path d="M255.5 104.6C256.2 103.7 256.2 103.9 258.0 103.8C259.8 103.7 260.1 103.5 261.5 104.3C262.9 105.1 262.7 105.1 262.8 106.5C262.9 107.9 263.0 108.2 262.0 109.0C261.0 109.8 260.8 109.7 259.5 109.3C258.2 108.9 258.9 108.5 257.8 107.8C256.7 107.0 256.5 107.8 255.8 106.8C255.1 105.8 254.8 105.5 255.5 104.6Z" fill="none" stroke="#000" stroke-width="0.96" stroke-linejoin="round"/>
<circle cx="251.6" cy="78.8" r="0.62" fill="#000" stroke="none"/>
<circle cx="244.8" cy="116.8" r="0.62" fill="#000" stroke="none"/>
<circle cx="261.8" cy="121.2" r="0.62" fill="#000" stroke="none"/>
<circle cx="243.3" cy="123" r="0.62" fill="#000" stroke="none"/>
<circle cx="252" cy="123" r="0.62" fill="#000" stroke="none"/>
<circle cx="259.6" cy="117.3" r="0.62" fill="#000" stroke="none"/>
<circle cx="247" cy="119.5" r="0.62" fill="#000" stroke="none"/>
<path d="M239.2 117.2 Q240.8 116 241.8 117.2 Q242 118.6 240.4 119.2" fill="none" stroke="#000" stroke-width="0.8"/>
<path d="M398.2 81.9C399.0 81.4 400.0 81.8 401.3 82.5C402.6 83.2 401.8 83.9 403.1 84.4C404.4 84.9 405.3 85.0 406.2 84.4C407.1 83.8 406.4 83.2 406.6 82.0C406.8 80.8 406.1 80.6 406.8 80.0C407.5 79.4 408.0 79.6 409.3 79.6C410.6 79.6 411.0 79.4 411.8 80.0C412.6 80.6 412.0 81.0 412.2 82.0C412.4 83.0 411.5 83.1 412.4 83.7C413.3 84.3 413.9 84.2 415.5 84.4C417.1 84.6 416.8 84.3 418.3 84.5C419.8 84.7 420.1 84.4 421.0 85.0C421.9 85.6 421.5 85.8 421.8 86.6C422.1 87.4 421.8 87.5 422.3 88.0C422.8 88.5 423.1 88.1 423.8 88.4C424.5 88.7 424.4 87.8 424.8 89.3C425.2 90.8 425.1 91.4 425.2 94.0C425.3 96.6 425.2 96.3 425.2 99.0C425.2 101.7 425.2 101.3 425.2 104.0C425.2 106.7 425.4 107.2 425.1 109.0C424.8 110.8 424.6 109.9 423.9 110.6C423.2 111.3 422.7 110.1 422.3 111.5C421.9 112.9 422.3 113.4 422.3 116.0C422.3 118.6 422.6 119.2 422.3 121.4C422.0 123.6 422.0 122.9 421.3 124.2C420.6 125.5 420.5 125.6 419.8 126.4C419.1 127.2 419.2 126.9 418.5 127.2C417.8 127.5 417.7 126.9 417.3 127.6C416.9 128.3 417.2 128.8 417.0 130.0C416.8 131.2 417.0 131.3 416.7 132.0C416.4 132.7 416.3 132.5 415.8 132.7C415.3 132.9 415.5 132.9 414.9 132.6C414.3 132.3 414.2 132.3 413.7 131.6C413.2 130.9 413.3 131.1 413.0 130.0C412.7 128.9 412.8 128.8 412.6 127.5C412.4 126.2 412.9 126.1 412.4 125.1C411.9 124.1 411.8 124.2 410.8 123.6C409.8 123.0 410.2 123.0 408.7 122.7C407.2 122.4 407.0 122.6 405.0 122.4C403.0 122.2 402.3 122.6 401.3 122.0C400.3 121.4 401.1 121.0 401.3 120.0C401.5 119.0 402.2 119.3 401.9 118.4C401.6 117.5 401.0 117.6 400.0 116.8C399.0 116.0 398.7 117.1 398.2 115.3C397.7 113.5 398.1 113.0 398.0 110.0C397.9 107.0 397.9 106.9 398.0 104.0C398.1 101.1 397.7 100.8 398.2 99.0C398.7 97.2 399.0 97.8 399.8 97.2C400.6 96.6 401.2 97.2 401.3 96.7C401.4 96.2 400.7 96.1 400.0 95.4C399.3 94.7 399.1 95.3 398.8 94.2C398.5 93.2 398.6 92.9 398.8 91.6C399.0 90.3 398.9 90.2 399.4 89.3C399.9 88.4 399.9 88.7 400.6 88.2C401.3 87.7 402.1 88.1 401.9 87.5C401.7 86.9 401.0 86.8 400.0 86.0C399.0 85.2 398.7 85.5 398.2 84.4C397.7 83.3 397.4 82.4 398.2 81.9Z" fill="none" stroke="#000" stroke-width="1.02" stroke-linejoin="round"/>
<path d="M408.7 106.0C408.8 102.5 408.5 104.0 409.2 101.0C409.9 98.0 409.6 98.2 411.0 96.0C412.4 93.8 412.0 94.0 414.0 93.8C416.0 93.6 416.0 93.6 417.6 95.5C419.2 97.4 418.8 96.8 419.2 100.0C419.6 103.2 419.0 102.2 418.8 106.0C418.6 109.8 418.8 108.7 418.6 112.8C418.4 116.9 418.6 117.1 418.0 119.6C417.4 122.1 417.4 120.7 416.5 121.2C415.6 121.7 416.1 121.4 414.9 121.4C413.7 121.4 413.8 121.6 412.5 121.2C411.2 120.8 411.5 121.5 410.5 120.2C409.5 118.9 409.7 119.2 409.2 117.0C408.7 114.8 408.8 116.1 408.7 112.8C408.6 109.5 408.6 109.5 408.7 106.0Z" fill="none" stroke="#000" stroke-width="1.02" stroke-linejoin="round"/>
<path d="M411.2 108.0C409.8 109.5 411.2 109.8 411.5 113.0C411.8 116.2 411.3 116.5 412.2 118.5C413.1 120.5 413.3 119.7 414.5 119.6C415.7 119.5 415.6 120.3 416.2 118.3C416.8 116.3 416.4 116.1 416.4 113.0C416.4 109.9 417.9 109.5 416.3 108.0C414.7 106.5 412.6 106.5 411.2 108.0Z" fill="none" stroke="#000" stroke-width="0.96" stroke-linejoin="round"/>
<path d="M420.2 87 Q423.2 88.5 423.4 93 V107 Q423.2 110 421 111.5" fill="none" stroke="#000" stroke-width="0.8"/>
<path d="M419 88.5 Q421.6 90.5 421.8 95 V106 Q421.4 109.5 419.5 110.5" fill="none" stroke="#000" stroke-width="0.8"/>
<path d="M406.4 96.0C406.5 93.7 406.4 93.6 407.8 91.6C409.2 89.6 408.9 89.9 411.2 89.2C413.5 88.5 413.1 88.5 415.4 89.2C417.7 89.9 417.6 89.6 419.0 91.6C420.4 93.6 420.1 93.5 420.0 96.0C419.9 98.5 420.2 98.3 418.6 100.0C417.0 101.7 417.1 101.3 414.6 101.6C412.1 101.9 412.6 101.7 410.4 101.0C408.2 100.3 408.6 100.7 407.4 99.2C406.2 97.7 406.3 98.3 406.4 96.0Z" fill="none" stroke="#000" stroke-width="1.02" stroke-linejoin="round"/>
<path d="M408.8 96.0C408.7 94.1 408.8 94.0 410.2 92.6C411.6 91.2 411.4 91.2 413.4 91.2C415.4 91.2 415.4 91.2 416.8 92.6C418.2 94.0 418.2 94.0 418.2 96.0C418.2 98.0 418.2 97.9 416.8 99.2C415.4 100.5 415.3 100.3 413.4 100.2C411.5 100.1 411.8 100.3 410.4 99.0C409.0 97.7 408.9 97.9 408.8 96.0Z" fill="none" stroke="#000" stroke-width="1.08" stroke-linejoin="round"/>
<path d="M411.0 96.0C411.0 94.6 411.2 94.4 412.2 93.6C413.2 92.8 413.2 92.8 414.4 93.2C415.6 93.6 415.6 93.7 416.2 95.0C416.8 96.3 416.8 96.4 416.3 97.6C415.8 98.8 415.6 98.8 414.4 99.0C413.2 99.2 413.2 99.3 412.2 98.4C411.2 97.5 411.0 97.4 411.0 96.0Z" fill="none" stroke="#000" stroke-width="1.08" stroke-linejoin="round"/>
<path d="M402.5 108.6C401.9 106.9 402.6 106.9 404.5 105.6C406.4 104.3 406.1 104.6 409.0 104.2C411.9 103.8 411.4 103.8 414.0 104.2C416.6 104.6 416.4 104.3 417.8 105.6C419.2 106.9 419.0 106.8 418.6 108.4C418.2 110.0 418.7 109.8 416.6 110.8C414.5 111.8 414.7 111.5 411.6 111.6C408.5 111.7 409.1 112.1 406.4 111.2C403.7 110.3 403.1 110.3 402.5 108.6Z" fill="none" stroke="#000" stroke-width="1.02" stroke-linejoin="round"/>
<path d="M405.2 108.4C405.2 107.3 405.3 107.1 407.0 106.2C408.7 105.3 408.6 105.5 411.0 105.4C413.4 105.3 413.4 105.2 415.0 106.0C416.6 106.8 416.6 106.9 416.5 108.0C416.4 109.1 416.4 109.1 414.6 109.8C412.8 110.5 412.7 110.2 410.4 110.2C408.1 110.2 408.6 110.3 407.0 109.8C405.4 109.3 405.2 109.5 405.2 108.4Z" fill="none" stroke="#000" stroke-width="1.02" stroke-linejoin="round"/>
<path d="M408.4 108.0C408.3 107.3 408.7 107.1 410.0 106.7C411.3 106.3 411.3 106.3 412.6 106.7C413.9 107.1 414.1 107.2 414.2 107.9C414.3 108.6 414.0 108.7 412.8 109.0C411.6 109.3 411.5 109.3 410.2 109.0C408.9 108.7 408.5 108.7 408.4 108.0Z" fill="none" stroke="#000" stroke-width="1.02" stroke-linejoin="round"/>
<path d="M420.4 97 L422.2 99.5 L421.2 103 L422.4 106 L420.6 108 L419.8 104 L420.6 101 Z" fill="#000" stroke="#000" stroke-width="0.9"/>
<path d="M405 90 L410 94 M406 101 L410 97 M404.6 110.6 L409 107" fill="none" stroke="#000" stroke-width="1.0"/>
<path d="M404.4 91.2 L411 88.6 L418.2 85.6 L420.4 87.8 L421.6 92 L421.8 97" fill="none" stroke="#000" stroke-width="1.3" stroke-linejoin="round"/>
<path d="M405.2 92.8 L411.4 91.2 L416.8 88.6 L419.2 91 L420.2 96" fill="none" stroke="#000" stroke-width="1.0" stroke-linejoin="round"/>
<path d="M407.6 93.4 L409.6 99 L411.4 101.6 M406.4 94.6 L407.4 99.6 L409.4 102.4" fill="none" stroke="#000" stroke-width="1.0"/>
<ellipse cx="414.2" cy="98.1" rx="1.6" ry="3.4" fill="#fff" stroke="#000" stroke-width="1.2"/>
<path d="M402.4 109.8 L406 107.4 L409.8 105.2 M404 111.2 L408 108.8 L411.4 106.4" fill="none" stroke="#000" stroke-width="1.1"/>
<path d="M393.8 93.9 L396.6 95 L394.6 96.4" fill="none" stroke="#000" stroke-width="0.8"/>
<circle cx="418" cy="77.6" r="0.62" fill="#000" stroke="none"/>
<circle cx="424.9" cy="98" r="0.62" fill="#000" stroke="none"/>
<circle cx="396.3" cy="117.7" r="0.62" fill="#000" stroke="none"/>
<circle cx="424.8" cy="117" r="0.62" fill="#000" stroke="none"/>
<circle cx="424" cy="124" r="0.62" fill="#000" stroke="none"/>
<circle cx="401.3" cy="127.6" r="0.62" fill="#000" stroke="none"/>
<circle cx="403.1" cy="131.3" r="0.62" fill="#000" stroke="none"/>
<circle cx="421" cy="131.3" r="0.62" fill="#000" stroke="none"/>
<circle cx="398.8" cy="122.7" r="0.62" fill="#000" stroke="none"/>
<circle cx="399" cy="107.5" r="0.62" fill="#000" stroke="none"/>
<circle cx="401.6" cy="112" r="0.62" fill="#000" stroke="none"/>
<line x1="85.0" y1="203.8" x2="85.0" y2="330.05" stroke-width="1.5" />
<line x1="81.2" y1="329.3" x2="276.5" y2="329.3" stroke-width="1.5" />
<line x1="81.2" y1="329.3" x2="85.0" y2="329.3" stroke-width="1.5" />
<text x="75.3" y="333.5" font-size="10.6" font-weight="bold" text-anchor="end" >0</text>
<line x1="81.2" y1="304.3" x2="85.0" y2="304.3" stroke-width="1.5" />
<text x="75.3" y="308.5" font-size="10.6" font-weight="bold" text-anchor="end" >5000</text>
<line x1="81.2" y1="279.3" x2="85.0" y2="279.3" stroke-width="1.5" />
<text x="75.3" y="283.5" font-size="10.6" font-weight="bold" text-anchor="end" >10000</text>
<line x1="81.2" y1="254.3" x2="85.0" y2="254.3" stroke-width="1.5" />
<text x="75.3" y="258.5" font-size="10.6" font-weight="bold" text-anchor="end" >15000</text>
<line x1="81.2" y1="229.3" x2="85.0" y2="229.3" stroke-width="1.5" />
<text x="75.3" y="233.5" font-size="10.6" font-weight="bold" text-anchor="end" >20000</text>
<line x1="81.2" y1="204.3" x2="85.0" y2="204.3" stroke-width="1.5" />
<text x="75.3" y="208.5" font-size="10.6" font-weight="bold" text-anchor="end" >25000</text>
<line x1="273.2" y1="203.8" x2="273.2" y2="330.05" stroke-width="1.5" />
<line x1="273.2" y1="329.3" x2="277.2" y2="329.3" stroke-width="1.5" />
<text x="284.3" y="333.5" font-size="10.6" font-weight="bold" text-anchor="start" >0</text>
<line x1="273.2" y1="287.7" x2="277.2" y2="287.7" stroke-width="1.5" />
<text x="284.3" y="291.9" font-size="10.6" font-weight="bold" text-anchor="start" >1000</text>
<line x1="273.2" y1="246.10000000000002" x2="277.2" y2="246.10000000000002" stroke-width="1.5" />
<text x="284.3" y="250.3" font-size="10.6" font-weight="bold" text-anchor="start" >2000</text>
<line x1="273.2" y1="204.5" x2="277.2" y2="204.5" stroke-width="1.5" />
<text x="284.3" y="208.7" font-size="10.6" font-weight="bold" text-anchor="start" >3000</text>
<line x1="103.75" y1="329.3" x2="103.75" y2="332.90000000000003" stroke-width="1.5" />
<text x="106.65" y="342.3" font-size="11.3" font-weight="bold" text-anchor="end" textLength="6.9" lengthAdjust="spacingAndGlyphs" transform="rotate(-45 106.65 342.3)" style="stroke:#000;stroke-width:0.35px">0</text>
<line x1="141.25" y1="329.3" x2="141.25" y2="332.90000000000003" stroke-width="1.5" />
<text x="144.15" y="342.3" font-size="11.3" font-weight="bold" text-anchor="end" textLength="22.3" lengthAdjust="spacingAndGlyphs" transform="rotate(-45 144.15 342.3)" style="stroke:#000;stroke-width:0.35px">24H</text>
<line x1="178.75" y1="329.3" x2="178.75" y2="332.90000000000003" stroke-width="1.5" />
<text x="181.65" y="342.3" font-size="11.3" font-weight="bold" text-anchor="end" textLength="22.3" lengthAdjust="spacingAndGlyphs" transform="rotate(-45 181.65 342.3)" style="stroke:#000;stroke-width:0.35px">48H</text>
<line x1="216.25" y1="329.3" x2="216.25" y2="332.90000000000003" stroke-width="1.5" />
<text x="219.15" y="342.3" font-size="11.3" font-weight="bold" text-anchor="end" textLength="22.3" lengthAdjust="spacingAndGlyphs" transform="rotate(-45 219.15 342.3)" style="stroke:#000;stroke-width:0.35px">72H</text>
<line x1="253.75" y1="329.3" x2="253.75" y2="332.90000000000003" stroke-width="1.5" />
<text x="256.65" y="342.3" font-size="11.3" font-weight="bold" text-anchor="end" textLength="22.3" lengthAdjust="spacingAndGlyphs" transform="rotate(-45 256.65 342.3)" style="stroke:#000;stroke-width:0.35px">96H</text>
<text x="33.7" y="287.3" font-size="12.4" font-weight="normal" text-anchor="start" class="n" textLength="43.8" lengthAdjust="spacingAndGlyphs" transform="rotate(-90 33.7 287.3)" style="stroke-width:0.5px">MFI Vδ2</text>
<text x="326.5" y="239.6" font-size="12.6" font-weight="normal" text-anchor="start" class="n" textLength="54.8" lengthAdjust="spacingAndGlyphs" transform="rotate(90 326.5 239.6)" style="stroke-width:0.6px">MFI BTLA</text>
<line x1="141.25" y1="293.8" x2="141.25" y2="306.3" stroke-width="1.45" />
<line x1="139.25" y1="293.8" x2="143.25" y2="293.8" stroke-width="1.45" />
<line x1="139.25" y1="306.3" x2="143.25" y2="306.3" stroke-width="1.45" />
<line x1="178.75" y1="282.5" x2="178.75" y2="303.3" stroke-width="1.45" />
<line x1="176.75" y1="282.5" x2="180.75" y2="282.5" stroke-width="1.45" />
<line x1="176.75" y1="303.3" x2="180.75" y2="303.3" stroke-width="1.45" />
<line x1="216.25" y1="261" x2="216.25" y2="286.8" stroke-width="1.45" />
<line x1="214.25" y1="261" x2="218.25" y2="261" stroke-width="1.45" />
<line x1="214.25" y1="286.8" x2="218.25" y2="286.8" stroke-width="1.45" />
<line x1="253.75" y1="252" x2="253.75" y2="289.5" stroke-width="1.45" />
<line x1="251.75" y1="252" x2="255.75" y2="252" stroke-width="1.45" />
<line x1="251.75" y1="289.5" x2="255.75" y2="289.5" stroke-width="1.45" />
<line x1="141.25" y1="277" x2="141.25" y2="284" stroke-width="1.45" />
<line x1="139.25" y1="277" x2="143.25" y2="277" stroke-width="1.45" />
<line x1="139.25" y1="284" x2="143.25" y2="284" stroke-width="1.45" />
<line x1="178.75" y1="259.5" x2="178.75" y2="277.5" stroke-width="1.45" />
<line x1="176.75" y1="259.5" x2="180.75" y2="259.5" stroke-width="1.45" />
<line x1="176.75" y1="277.5" x2="180.75" y2="277.5" stroke-width="1.45" />
<line x1="216.25" y1="233" x2="216.25" y2="250.5" stroke-width="1.45" />
<line x1="214.25" y1="233" x2="218.25" y2="233" stroke-width="1.45" />
<line x1="214.25" y1="250.5" x2="218.25" y2="250.5" stroke-width="1.45" />
<line x1="253.75" y1="233.5" x2="253.75" y2="250.5" stroke-width="1.45" />
<line x1="251.75" y1="233.5" x2="255.75" y2="233.5" stroke-width="1.45" />
<line x1="251.75" y1="250.5" x2="255.75" y2="250.5" stroke-width="1.45" />
<line x1="141.25" y1="246" x2="141.25" y2="258" stroke-width="1.45" />
<line x1="139.25" y1="246" x2="143.25" y2="246" stroke-width="1.45" />
<line x1="139.25" y1="258" x2="143.25" y2="258" stroke-width="1.45" />
<line x1="178.75" y1="253" x2="178.75" y2="263.5" stroke-width="1.45" />
<line x1="176.75" y1="253" x2="180.75" y2="253" stroke-width="1.45" />
<line x1="176.75" y1="263.5" x2="180.75" y2="263.5" stroke-width="1.45" />
<line x1="216.25" y1="249" x2="216.25" y2="261" stroke-width="1.45" />
<line x1="214.25" y1="249" x2="218.25" y2="249" stroke-width="1.45" />
<line x1="214.25" y1="261" x2="218.25" y2="261" stroke-width="1.45" />
<line x1="253.75" y1="249" x2="253.75" y2="261" stroke-width="1.45" />
<line x1="251.75" y1="249" x2="255.75" y2="249" stroke-width="1.45" />
<line x1="251.75" y1="261" x2="255.75" y2="261" stroke-width="1.45" />
<line x1="103.75" y1="225.6" x2="103.75" y2="273.0" stroke-width="1.45" />
<line x1="101.75" y1="225.6" x2="105.75" y2="225.6" stroke-width="1.45" />
<line x1="101.75" y1="273.0" x2="105.75" y2="273.0" stroke-width="1.45" />
<line x1="141.25" y1="234.5" x2="141.25" y2="271.8" stroke-width="1.45" />
<line x1="139.25" y1="234.5" x2="143.25" y2="234.5" stroke-width="1.45" />
<line x1="139.25" y1="271.8" x2="143.25" y2="271.8" stroke-width="1.45" />
<line x1="178.75" y1="240.5" x2="178.75" y2="253.0" stroke-width="1.45" />
<line x1="176.75" y1="240.5" x2="180.75" y2="240.5" stroke-width="1.45" />
<line x1="176.75" y1="253.0" x2="180.75" y2="253.0" stroke-width="1.45" />
<line x1="216.25" y1="227.5" x2="216.25" y2="242.5" stroke-width="1.45" />
<line x1="214.25" y1="227.5" x2="218.25" y2="227.5" stroke-width="1.45" />
<line x1="214.25" y1="242.5" x2="218.25" y2="242.5" stroke-width="1.45" />
<line x1="253.75" y1="220.0" x2="253.75" y2="233.5" stroke-width="1.45" />
<line x1="251.75" y1="220.0" x2="255.75" y2="220.0" stroke-width="1.45" />
<line x1="251.75" y1="233.5" x2="255.75" y2="233.5" stroke-width="1.45" />
<polyline points="103.75,248.8 141.25,300.0 178.75,293.0 216.25,273.8 253.75,270.5" fill="none" stroke="#000" stroke-width="1.7" stroke-dasharray="4,2.2"/>
<polyline points="103.75,246.8 141.25,280.5 178.75,268.3 216.25,241.8 253.75,242.0" fill="none" stroke="#000" stroke-width="1.7" stroke-dasharray="4,2.2"/>
<polyline points="103.75,248.8 141.25,252.0 178.75,258.3 216.25,255.0 253.75,255.0" fill="none" stroke="#000" stroke-width="1.7"/>
<polyline points="103.75,246.3 141.25,249.3 178.75,246.8 216.25,235.0 253.75,226.8" fill="none" stroke="#000" stroke-width="1.7"/>
<rect x="100.5" y="245.55" width="6.5" height="6.5" fill="none" stroke="#000" stroke-width="1.2"/>
<rect x="138.0" y="296.75" width="6.5" height="6.5" fill="none" stroke="#000" stroke-width="1.2"/>
<rect x="175.5" y="289.75" width="6.5" height="6.5" fill="none" stroke="#000" stroke-width="1.2"/>
<rect x="213.0" y="270.55" width="6.5" height="6.5" fill="none" stroke="#000" stroke-width="1.2"/>
<rect x="250.5" y="267.25" width="6.5" height="6.5" fill="none" stroke="#000" stroke-width="1.2"/>
<circle cx="103.75" cy="246.8" r="3.1" fill="none" stroke="#000" stroke-width="1.3"/>
<circle cx="141.25" cy="280.5" r="3.1" fill="none" stroke="#000" stroke-width="1.3"/>
<circle cx="178.75" cy="268.3" r="3.1" fill="none" stroke="#000" stroke-width="1.3"/>
<circle cx="216.25" cy="241.8" r="3.1" fill="none" stroke="#000" stroke-width="1.3"/>
<circle cx="253.75" cy="242.0" r="3.1" fill="none" stroke="#000" stroke-width="1.3"/>
<rect x="100.45" y="245.5" width="6.6" height="6.6" fill="#000" stroke="none"/>
<rect x="137.95" y="248.7" width="6.6" height="6.6" fill="#000" stroke="none"/>
<rect x="175.45" y="255.0" width="6.6" height="6.6" fill="#000" stroke="none"/>
<rect x="212.95" y="251.7" width="6.6" height="6.6" fill="#000" stroke="none"/>
<rect x="250.45" y="251.7" width="6.6" height="6.6" fill="#000" stroke="none"/>
<circle cx="103.75" cy="246.3" r="3.4" fill="#000" stroke="none"/>
<circle cx="141.25" cy="249.3" r="3.4" fill="#000" stroke="none"/>
<circle cx="178.75" cy="246.8" r="3.4" fill="#000" stroke="none"/>
<circle cx="216.25" cy="235.0" r="3.4" fill="#000" stroke="none"/>
<circle cx="253.75" cy="226.8" r="3.4" fill="#000" stroke="none"/>
<line x1="381.3" y1="213.8" x2="397.6" y2="213.8" stroke-width="1.7" />
<circle cx="389.4" cy="213.8" r="3.4" fill="#000" stroke="none"/>
<text x="406.6" y="215.1" font-size="10.7" font-weight="bold" text-anchor="start" textLength="75.5" lengthAdjust="spacingAndGlyphs" >TCR-Vδ2 (IL-2)</text>
<line x1="381.3" y1="237.1" x2="385.90000000000003" y2="237.1" stroke-width="1.7" />
<line x1="393.0" y1="237.1" x2="397.6" y2="237.1" stroke-width="1.7" />
<line x1="387.79999999999995" y1="237.1" x2="391.0" y2="237.1" stroke-width="1.36" />
<circle cx="389.4" cy="237.1" r="3.1999999999999997" fill="none" stroke="#000" stroke-width="1.3"/>
<text x="406.6" y="239.7" font-size="10.7" font-weight="bold" text-anchor="start" textLength="114.0" lengthAdjust="spacingAndGlyphs" >TCR-Vδ2 (IL-2+BrHPP)</text>
<line x1="381.3" y1="266.5" x2="397.6" y2="266.5" stroke-width="1.7" />
<rect x="386.0" y="263.1" width="6.8" height="6.8" fill="#000" stroke="none"/>
<text x="406.6" y="269.3" font-size="10.7" font-weight="bold" text-anchor="start" textLength="58.5" lengthAdjust="spacingAndGlyphs" >BTLA (IL-2)</text>
<line x1="381.3" y1="295.3" x2="385.90000000000003" y2="295.3" stroke-width="1.7" />
<line x1="393.0" y1="295.3" x2="397.6" y2="295.3" stroke-width="1.7" />
<line x1="387.79999999999995" y1="295.3" x2="391.0" y2="295.3" stroke-width="1.36" />
<rect x="386.15" y="292.05" width="6.5" height="6.5" fill="none" stroke="#000" stroke-width="1.2"/>
<text x="406.6" y="298.8" font-size="10.7" font-weight="bold" text-anchor="start" textLength="97.3" lengthAdjust="spacingAndGlyphs" >BTLA (IL-2+BrHPP)</text>
<line x1="83.8" y1="379.8" x2="83.8" y2="506.05" stroke-width="1.5" />
<line x1="80" y1="505.3" x2="272.5" y2="505.3" stroke-width="1.5" />
<line x1="80" y1="505.3" x2="83.8" y2="505.3" stroke-width="1.5" />
<text x="73.2" y="509.5" font-size="10.6" font-weight="bold" text-anchor="end" >0</text>
<line x1="80" y1="463.7" x2="83.8" y2="463.7" stroke-width="1.5" />
<text x="73.2" y="467.9" font-size="10.6" font-weight="bold" text-anchor="end" >1000</text>
<line x1="80" y1="422.1" x2="83.8" y2="422.1" stroke-width="1.5" />
<text x="73.2" y="426.3" font-size="10.6" font-weight="bold" text-anchor="end" >2000</text>
<line x1="80" y1="380.5" x2="83.8" y2="380.5" stroke-width="1.5" />
<text x="73.2" y="384.7" font-size="10.6" font-weight="bold" text-anchor="end" >3000</text>
<line x1="102.5" y1="505.3" x2="102.5" y2="508.90000000000003" stroke-width="1.5" />
<text x="105.4" y="518.3" font-size="11.3" font-weight="bold" text-anchor="end" textLength="6.9" lengthAdjust="spacingAndGlyphs" transform="rotate(-45 105.4 518.3)" style="stroke:#000;stroke-width:0.35px">0</text>
<line x1="140.0" y1="505.3" x2="140.0" y2="508.90000000000003" stroke-width="1.5" />
<text x="142.9" y="518.3" font-size="11.3" font-weight="bold" text-anchor="end" textLength="22.3" lengthAdjust="spacingAndGlyphs" transform="rotate(-45 142.9 518.3)" style="stroke:#000;stroke-width:0.35px">24H</text>
<line x1="177.5" y1="505.3" x2="177.5" y2="508.90000000000003" stroke-width="1.5" />
<text x="180.4" y="518.3" font-size="11.3" font-weight="bold" text-anchor="end" textLength="22.3" lengthAdjust="spacingAndGlyphs" transform="rotate(-45 180.4 518.3)" style="stroke:#000;stroke-width:0.35px">48H</text>
<line x1="215.0" y1="505.3" x2="215.0" y2="508.90000000000003" stroke-width="1.5" />
<text x="217.9" y="518.3" font-size="11.3" font-weight="bold" text-anchor="end" textLength="22.3" lengthAdjust="spacingAndGlyphs" transform="rotate(-45 217.9 518.3)" style="stroke:#000;stroke-width:0.35px">72H</text>
<line x1="252.5" y1="505.3" x2="252.5" y2="508.90000000000003" stroke-width="1.5" />
<text x="255.4" y="518.3" font-size="11.3" font-weight="bold" text-anchor="end" textLength="22.3" lengthAdjust="spacingAndGlyphs" transform="rotate(-45 255.4 518.3)" style="stroke:#000;stroke-width:0.35px">96H</text>
<text x="33.7" y="459.2" font-size="12.4" font-weight="normal" text-anchor="start" class="n" textLength="53.5" lengthAdjust="spacingAndGlyphs" transform="rotate(-90 33.7 459.2)" style="stroke-width:0.5px">MFI BTLA</text>
<line x1="140" y1="469.8" x2="140" y2="485.3" stroke-width="0.9" />
<line x1="135.6" y1="469.8" x2="144.4" y2="469.8" stroke-width="0.9" />
<line x1="135.6" y1="485.3" x2="144.4" y2="485.3" stroke-width="0.9" />
<line x1="177.5" y1="458" x2="177.5" y2="479" stroke-width="0.9" />
<line x1="173.1" y1="458" x2="181.9" y2="458" stroke-width="0.9" />
<line x1="173.1" y1="479" x2="181.9" y2="479" stroke-width="0.9" />
<line x1="215" y1="437" x2="215" y2="462" stroke-width="0.9" />
<line x1="210.6" y1="437" x2="219.4" y2="437" stroke-width="0.9" />
<line x1="210.6" y1="462" x2="219.4" y2="462" stroke-width="0.9" />
<line x1="252.5" y1="428.5" x2="252.5" y2="465" stroke-width="0.9" />
<line x1="248.1" y1="428.5" x2="256.9" y2="428.5" stroke-width="0.9" />
<line x1="248.1" y1="465" x2="256.9" y2="465" stroke-width="0.9" />
<line x1="140" y1="469.8" x2="140" y2="482.8" stroke-width="0.9" />
<line x1="135.6" y1="469.8" x2="144.4" y2="469.8" stroke-width="0.9" />
<line x1="135.6" y1="482.8" x2="144.4" y2="482.8" stroke-width="0.9" />
<line x1="177.5" y1="447.5" x2="177.5" y2="472.8" stroke-width="0.9" />
<line x1="173.1" y1="447.5" x2="181.9" y2="447.5" stroke-width="0.9" />
<line x1="173.1" y1="472.8" x2="181.9" y2="472.8" stroke-width="0.9" />
<line x1="215" y1="431.3" x2="215" y2="454.5" stroke-width="0.9" />
<line x1="210.6" y1="431.3" x2="219.4" y2="431.3" stroke-width="0.9" />
<line x1="210.6" y1="454.5" x2="219.4" y2="454.5" stroke-width="0.9" />
<line x1="252.5" y1="427.5" x2="252.5" y2="457.5" stroke-width="0.9" />
<line x1="248.1" y1="427.5" x2="256.9" y2="427.5" stroke-width="0.9" />
<line x1="248.1" y1="457.5" x2="256.9" y2="457.5" stroke-width="0.9" />
<line x1="140" y1="469.8" x2="140" y2="485.3" stroke-width="0.9" />
<line x1="135.6" y1="469.8" x2="144.4" y2="469.8" stroke-width="0.9" />
<line x1="135.6" y1="485.3" x2="144.4" y2="485.3" stroke-width="0.9" />
<line x1="177.5" y1="458" x2="177.5" y2="479" stroke-width="0.9" />
<line x1="173.1" y1="458" x2="181.9" y2="458" stroke-width="0.9" />
<line x1="173.1" y1="479" x2="181.9" y2="479" stroke-width="0.9" />
<line x1="215" y1="431.3" x2="215" y2="458.8" stroke-width="0.9" />
<line x1="210.6" y1="431.3" x2="219.4" y2="431.3" stroke-width="0.9" />
<line x1="210.6" y1="458.8" x2="219.4" y2="458.8" stroke-width="0.9" />
<line x1="252.5" y1="427.5" x2="252.5" y2="461.3" stroke-width="0.9" />
<line x1="248.1" y1="427.5" x2="256.9" y2="427.5" stroke-width="0.9" />
<line x1="248.1" y1="461.3" x2="256.9" y2="461.3" stroke-width="0.9" />
<line x1="102.5" y1="401.4" x2="102.5" y2="448.8" stroke-width="0.9" />
<line x1="98.1" y1="401.4" x2="106.9" y2="401.4" stroke-width="0.9" />
<line x1="98.1" y1="448.8" x2="106.9" y2="448.8" stroke-width="0.9" />
<line x1="140" y1="412.5" x2="140" y2="447.5" stroke-width="0.9" />
<line x1="135.6" y1="412.5" x2="144.4" y2="412.5" stroke-width="0.9" />
<line x1="135.6" y1="447.5" x2="144.4" y2="447.5" stroke-width="0.9" />
<line x1="177.5" y1="416.3" x2="177.5" y2="453" stroke-width="0.9" />
<line x1="173.1" y1="416.3" x2="181.9" y2="416.3" stroke-width="0.9" />
<line x1="173.1" y1="453" x2="181.9" y2="453" stroke-width="0.9" />
<line x1="215" y1="410.8" x2="215" y2="449.5" stroke-width="0.9" />
<line x1="210.6" y1="410.8" x2="219.4" y2="410.8" stroke-width="0.9" />
<line x1="210.6" y1="449.5" x2="219.4" y2="449.5" stroke-width="0.9" />
<line x1="252.5" y1="413.8" x2="252.5" y2="447.5" stroke-width="0.9" />
<line x1="248.1" y1="413.8" x2="256.9" y2="413.8" stroke-width="0.9" />
<line x1="248.1" y1="447.5" x2="256.9" y2="447.5" stroke-width="0.9" />
<line x1="140" y1="410.8" x2="140" y2="449.5" stroke-width="0.9" />
<line x1="135.6" y1="410.8" x2="144.4" y2="410.8" stroke-width="0.9" />
<line x1="135.6" y1="449.5" x2="144.4" y2="449.5" stroke-width="0.9" />
<line x1="177.5" y1="412.5" x2="177.5" y2="443.5" stroke-width="0.9" />
<line x1="173.1" y1="412.5" x2="181.9" y2="412.5" stroke-width="0.9" />
<line x1="173.1" y1="443.5" x2="181.9" y2="443.5" stroke-width="0.9" />
<line x1="215" y1="402.5" x2="215" y2="441" stroke-width="0.9" />
<line x1="210.6" y1="402.5" x2="219.4" y2="402.5" stroke-width="0.9" />
<line x1="210.6" y1="441" x2="219.4" y2="441" stroke-width="0.9" />
<line x1="252.5" y1="403.3" x2="252.5" y2="436" stroke-width="0.9" />
<line x1="248.1" y1="403.3" x2="256.9" y2="403.3" stroke-width="0.9" />
<line x1="248.1" y1="436" x2="256.9" y2="436" stroke-width="0.9" />
<line x1="140" y1="414.3" x2="140" y2="447.5" stroke-width="0.9" />
<line x1="135.6" y1="414.3" x2="144.4" y2="414.3" stroke-width="0.9" />
<line x1="135.6" y1="447.5" x2="144.4" y2="447.5" stroke-width="0.9" />
<line x1="177.5" y1="402.5" x2="177.5" y2="443.5" stroke-width="0.9" />
<line x1="173.1" y1="402.5" x2="181.9" y2="402.5" stroke-width="0.9" />
<line x1="173.1" y1="443.5" x2="181.9" y2="443.5" stroke-width="0.9" />
<line x1="215" y1="393.3" x2="215" y2="441" stroke-width="0.9" />
<line x1="210.6" y1="393.3" x2="219.4" y2="393.3" stroke-width="0.9" />
<line x1="210.6" y1="441" x2="219.4" y2="441" stroke-width="0.9" />
<line x1="252.5" y1="403.3" x2="252.5" y2="436" stroke-width="0.9" />
<line x1="248.1" y1="403.3" x2="256.9" y2="403.3" stroke-width="0.9" />
<line x1="248.1" y1="436" x2="256.9" y2="436" stroke-width="0.9" />
<polyline points="102.5,425 140,475.3 177.5,468.8 215,449.5 252.5,447.5" fill="none" stroke="#000" stroke-width="1.7" stroke-dasharray="4,2.2"/>
<polyline points="102.5,425 140,477.4 177.5,460.3 215,440.5 252.5,442" fill="none" stroke="#000" stroke-width="1.7" stroke-dasharray="4,2.2"/>
<polyline points="102.5,425 140,480.0 177.5,468.5 215,442.5 252.5,445" fill="none" stroke="#000" stroke-width="1.7" stroke-dasharray="4,2.2"/>
<polyline points="102.5,425 140,430.5 177.5,434.5 215,431.3 252.5,431.3" fill="none" stroke="#000" stroke-width="1.7"/>
<polyline points="102.5,425 140,430.5 177.5,427.5 215,420 252.5,421.3" fill="none" stroke="#000" stroke-width="1.7"/>
<polyline points="102.5,425 140,430.5 177.5,423 215,420 252.5,420" fill="none" stroke="#000" stroke-width="1.7"/>
<circle cx="140" cy="475.3" r="2.9" fill="none" stroke="#000" stroke-width="1.3"/>
<circle cx="177.5" cy="468.8" r="2.9" fill="none" stroke="#000" stroke-width="1.3"/>
<circle cx="215" cy="449.5" r="2.9" fill="none" stroke="#000" stroke-width="1.3"/>
<circle cx="252.5" cy="447.5" r="2.9" fill="none" stroke="#000" stroke-width="1.3"/>
<polygon points="140,474.0 143.2,480.4 136.8,480.4" fill="none" stroke="#000" stroke-width="1.4" stroke-linejoin="miter"/>
<polygon points="177.5,456.90000000000003 180.7,463.3 174.3,463.3" fill="none" stroke="#000" stroke-width="1.4" stroke-linejoin="miter"/>
<polygon points="215,437.1 218.2,443.5 211.8,443.5" fill="none" stroke="#000" stroke-width="1.4" stroke-linejoin="miter"/>
<polygon points="252.5,438.6 255.7,445.0 249.3,445.0" fill="none" stroke="#000" stroke-width="1.4" stroke-linejoin="miter"/>
<polygon points="140,476.8 143.1,480.0 140,483.2 136.9,480.0" fill="none" stroke="#000" stroke-width="1.3"/><circle cx="140" cy="480.0" r="0.9" fill="#000" stroke="none"/>
<polygon points="177.5,465.3 180.6,468.5 177.5,471.7 174.4,468.5" fill="none" stroke="#000" stroke-width="1.3"/><circle cx="177.5" cy="468.5" r="0.9" fill="#000" stroke="none"/>
<polygon points="215,439.3 218.1,442.5 215,445.7 211.9,442.5" fill="none" stroke="#000" stroke-width="1.3"/><circle cx="215" cy="442.5" r="0.9" fill="#000" stroke="none"/>
<polygon points="252.5,441.8 255.6,445 252.5,448.2 249.4,445" fill="none" stroke="#000" stroke-width="1.3"/><circle cx="252.5" cy="445" r="0.9" fill="#000" stroke="none"/>
<circle cx="102.5" cy="425" r="3.8" fill="#000" stroke="none"/>
<circle cx="140" cy="430.5" r="3.5" fill="#000" stroke="none"/>
<circle cx="177.5" cy="434.5" r="3.5" fill="#000" stroke="none"/>
<circle cx="215" cy="431.3" r="3.5" fill="#000" stroke="none"/>
<circle cx="252.5" cy="431.3" r="3.5" fill="#000" stroke="none"/>
<polygon points="140,426.4 143.8,433.4 136.2,433.4" fill="#000" stroke="none"/>
<polygon points="177.5,423.4 181.3,430.4 173.7,430.4" fill="#000" stroke="none"/>
<polygon points="215,415.9 218.8,422.9 211.2,422.9" fill="#000" stroke="none"/>
<polygon points="252.5,417.2 256.3,424.2 248.7,424.2" fill="#000" stroke="none"/>
<polygon points="140,426.5 143.7,430.5 140,434.5 136.3,430.5" fill="#000" stroke="none"/>
<polygon points="177.5,419.0 181.2,423 177.5,427.0 173.8,423" fill="#000" stroke="none"/>
<polygon points="215,416.0 218.7,420 215,424.0 211.3,420" fill="#000" stroke="none"/>
<polygon points="252.5,416.0 256.2,420 252.5,424.0 248.8,420" fill="#000" stroke="none"/>
<line x1="283.2" y1="388.9" x2="299.6" y2="388.9" stroke-width="1.7" />
<circle cx="291.3" cy="388.9" r="3.6" fill="#000" stroke="none"/>
<text x="306.7" y="390" font-size="10.75" font-weight="bold" text-anchor="start" >IL-2</text>
<line x1="283.2" y1="403.3" x2="287.8" y2="403.3" stroke-width="1.7" />
<line x1="295.0" y1="403.3" x2="299.6" y2="403.3" stroke-width="1.7" />
<line x1="289.7" y1="403.3" x2="292.90000000000003" y2="403.3" stroke-width="1.36" />
<circle cx="291.3" cy="403.3" r="3.1999999999999997" fill="none" stroke="#000" stroke-width="1.3"/>
<text x="306.7" y="404.5" font-size="10.75" font-weight="bold" text-anchor="start" >IL-2+BrHPP</text>
<line x1="283.2" y1="418.3" x2="299.6" y2="418.3" stroke-width="1.7" />
<polygon points="291.3,413.29999999999995 295.20000000000005,420.5 287.4,420.5" fill="#000" stroke="none"/>
<text x="306.7" y="418.8" font-size="10.75" font-weight="bold" text-anchor="start" >IL-7</text>
<line x1="283.2" y1="433" x2="287.8" y2="433" stroke-width="1.7" />
<line x1="295.0" y1="433" x2="299.6" y2="433" stroke-width="1.7" />
<line x1="-51.6" y1="433" x2="-48.4" y2="433" stroke-width="1.36" />
<polygon points="291.3,428.7 294.6,435.3 288.0,435.3" fill="none" stroke="#000" stroke-width="1.4" stroke-linejoin="miter"/>
<text x="306.7" y="433.8" font-size="10.75" font-weight="bold" text-anchor="start" >IL-7+BrHPP</text>
<line x1="283.2" y1="447.5" x2="299.6" y2="447.5" stroke-width="1.7" />
<polygon points="291.3,443.4 295.1,447.5 291.3,451.6 287.5,447.5" fill="#000" stroke="none"/>
<text x="306.7" y="450.4" font-size="10.75" font-weight="bold" text-anchor="start" >IL-15</text>
<line x1="283.2" y1="461.6" x2="287.8" y2="461.6" stroke-width="1.7" />
<line x1="295.0" y1="461.6" x2="299.6" y2="461.6" stroke-width="1.7" />
<line x1="289.7" y1="461.6" x2="292.90000000000003" y2="461.6" stroke-width="1.36" />
<polygon points="291.3,458.3 294.50000000000006,461.6 291.3,464.90000000000003 288.09999999999997,461.6" fill="none" stroke="#000" stroke-width="1.3"/><circle cx="291.3" cy="461.6" r="0.9" fill="#000" stroke="none"/>
<text x="306.7" y="465.6" font-size="10.75" font-weight="bold" text-anchor="start" >IL-15+BrHPP</text>
</svg></body></html>
